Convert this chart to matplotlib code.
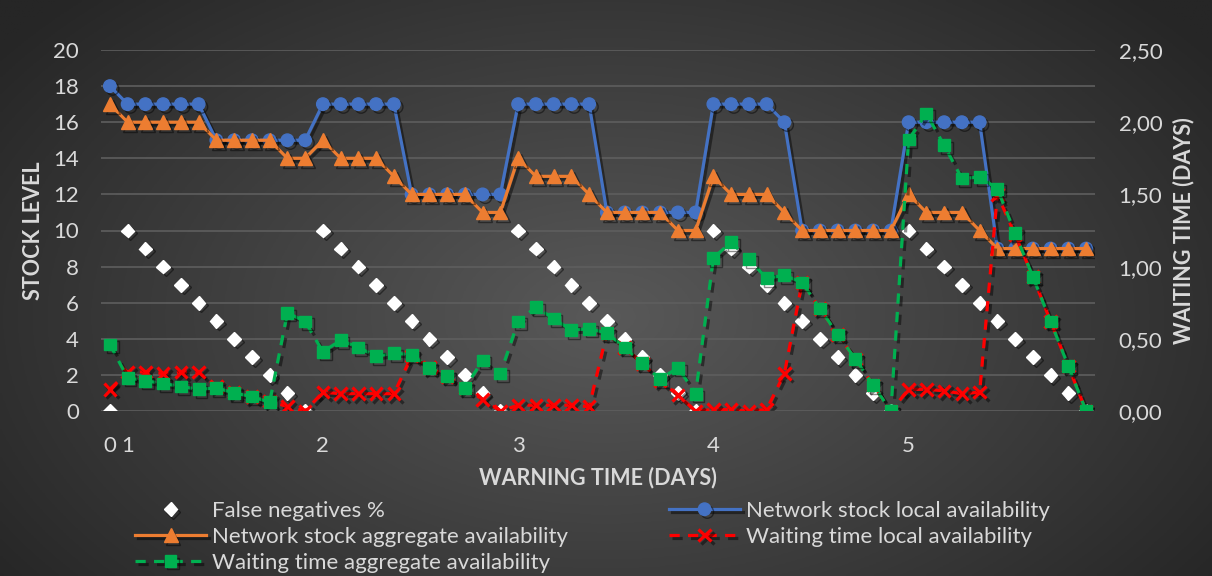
import numpy as np
import matplotlib
matplotlib.use('Agg')
import matplotlib.pyplot as plt
from matplotlib import patheffects as pe

plt.rcParams['font.family'] = ['Lato', 'DejaVu Sans']

# warning time axis: a 0 point, then 11 steps for each day 1..5
tick_pos = [0, 1, 12, 23, 34, 45]
tick_labels = ['0', '1', '2', '3', '4', '5']

false_negatives = [0,
                   10, 9, 8, 7, 6, 5, 4, 3, 2, 1, 0,
                   10, 9, 8, 7, 6, 5, 4, 3, 2, 1, 0,
                   10, 9, 8, 7, 6, 5, 4, 3, 2, 1, 0,
                   10, 9, 8, 7, 6, 5, 4, 3, 2, 1, 0,
                   10, 9, 8, 7, 6, 5, 4, 3, 2, 1, 0]

stock_local = [18,
               17, 17, 17, 17, 17, 15, 15, 15, 15, 15, 15,
               17, 17, 17, 17, 17, 12, 12, 12, 12, 12, 12,
               17, 17, 17, 17, 17, 11, 11, 11, 11, 11, 11,
               17, 17, 17, 17, 16, 10, 10, 10, 10, 10, 10,
               16, 16, 16, 16, 16, 9, 9, 9, 9, 9, 9]

stock_aggregate = [17,
                   16, 16, 16, 16, 16, 15, 15, 15, 15, 14, 14,
                   15, 14, 14, 14, 13, 12, 12, 12, 12, 11, 11,
                   14, 13, 13, 13, 12, 11, 11, 11, 11, 10, 10,
                   13, 12, 12, 12, 11, 10, 10, 10, 10, 10, 10,
                   12, 11, 11, 11, 10, 9, 9, 9, 9, 9, 9]

wait_local = [0.15,
              0.27, 0.27, 0.26, 0.27, 0.27, 0.17, 0.13, 0.10, 0.07, 0.03, 0.00,
              0.13, 0.12, 0.12, 0.12, 0.12, 0.38, 0.30, 0.24, 0.16, 0.08, 0.00,
              0.04, 0.04, 0.04, 0.04, 0.03, 0.54, 0.44, 0.33, 0.21, 0.11, 0.00,
              0.01, 0.01, 0.00, 0.01, 0.26, 0.89, 0.71, 0.53, 0.36, 0.18, 0.00,
              0.15, 0.15, 0.14, 0.12, 0.13, 1.50, 1.22, 0.93, 0.62, 0.31, 0.00]

wait_aggregate = [0.46,
                  0.23, 0.21, 0.19, 0.17, 0.15, 0.16, 0.125, 0.10, 0.06, 0.68, 0.62,
                  0.41, 0.49, 0.44, 0.38, 0.40, 0.39, 0.30, 0.24, 0.16, 0.35, 0.26,
                  0.62, 0.72, 0.64, 0.56, 0.57, 0.54, 0.44, 0.33, 0.22, 0.30, 0.12,
                  1.06, 1.17, 1.05, 0.92, 0.94, 0.89, 0.71, 0.53, 0.36, 0.18, 0.00,
                  1.88, 2.06, 1.84, 1.61, 1.62, 1.54, 1.23, 0.93, 0.62, 0.31, 0.00]

x = np.arange(len(stock_local))
W, H = 1212, 576
txt = '#d9d9d9'
fs = 16

fig = plt.figure(figsize=(W / 100, H / 100), dpi=100)

# radial gradient background
gx, gy = np.meshgrid(np.linspace(0, 1, 400), np.linspace(0, 1, 200))
r = np.sqrt(((gx - 0.5) / 0.62) ** 2 + ((gy - 0.55) / 0.8) ** 2)
r = np.clip(r, 0, 1)
c0, c1 = 0x59 / 255, 0x26 / 255
shade = c0 + (c1 - c0) * r
bg = fig.add_axes([0, 0, 1, 1], zorder=-10)
bg.imshow(np.dstack([shade] * 3), aspect='auto', extent=[0, 1, 0, 1], origin='upper')
bg.axis('off')

ax = fig.add_axes([101 / W, 1 - 411 / H, 994 / W, 361 / H])
ax.set_facecolor('none')
ax.set_xlim(-0.5, 55.5)
ax.set_ylim(0, 20)
ax.set_yticks(range(0, 21, 2))
ax.set_xticks(tick_pos, tick_labels)
ax.grid(axis='y', color='#5e5e5e', lw=1.2)
ax.set_axisbelow(True)
for s in ax.spines.values():
    s.set_visible(False)
ax.tick_params(axis='both', length=0, colors=txt, labelsize=fs)
ax.tick_params(axis='y', pad=16)
ax.tick_params(axis='x', pad=18)

shadow = [pe.SimpleLineShadow(offset=(2, -2), shadow_color='black', alpha=0.45), pe.Normal()]

h_fn, = ax.plot(x, false_negatives, ls='none', marker='D', ms=7, mfc='white',
                mec='white', label='False negatives %', path_effects=shadow)
h_local, = ax.plot(x, stock_local, color='#4472C4', lw=2.3, marker='o', ms=9,
                   label='Network stock local availability', path_effects=shadow)
h_agg, = ax.plot(x, stock_aggregate, color='#ED7D31', lw=2.3, marker='^', ms=10,
                 label='Network stock aggregate availability', path_effects=shadow)

ax2 = ax.twinx()
ax2.set_ylim(0, 2.5)
ax2.set_yticks(np.arange(0, 2.51, 0.5))
ax2.set_yticklabels([f'{v:.2f}'.replace('.', ',') for v in np.arange(0, 2.51, 0.5)])
for s in ax2.spines.values():
    s.set_visible(False)
ax2.tick_params(axis='y', length=0, colors=txt, labelsize=fs, pad=17)

h_wl, = ax2.plot(x, wait_local, color='#FF0000', lw=2.3, dashes=(3.2, 2.6), marker='x',
                 ms=9, mew=2.3, label='Waiting time local availability', path_effects=shadow)
h_wa, = ax2.plot(x, wait_aggregate, color='#00B050', lw=2.3, dashes=(3.2, 2.6), marker='s',
                 ms=8.5, label='Waiting time aggregate availability', path_effects=shadow)

fig.text(33 / W, 1 - 231 / H, 'STOCK LEVEL', rotation=90, ha='center', va='center',
         color=txt, fontsize=15.5, fontweight='bold')
fig.text(1184 / W, 1 - 231 / H, 'WAITING TIME (DAYS)', rotation=90, ha='center', va='center',
         color=txt, fontsize=15.5, fontweight='bold')
fig.text(598 / W, 1 - 478 / H, 'WARNING TIME (DAYS)', ha='center', va='center',
         color=txt, fontsize=15.5, fontweight='bold')

leg_kw = dict(frameon=False, fontsize=fs, labelcolor=txt, handlelength=3.2,
              handletextpad=0.28, labelspacing=0.26, borderpad=0, borderaxespad=0,
              numpoints=1, loc='upper left')
leg1 = fig.legend([h_fn, h_agg, h_wa], [h.get_label() for h in (h_fn, h_agg, h_wa)],
                  bbox_to_anchor=(135 / W, 1 - 501 / H), **leg_kw)
leg2 = fig.legend([h_local, h_wl], [h.get_label() for h in (h_local, h_wl)],
                  bbox_to_anchor=(669 / W, 1 - 501 / H), **leg_kw)

fig.savefig('out.png', dpi=100)
